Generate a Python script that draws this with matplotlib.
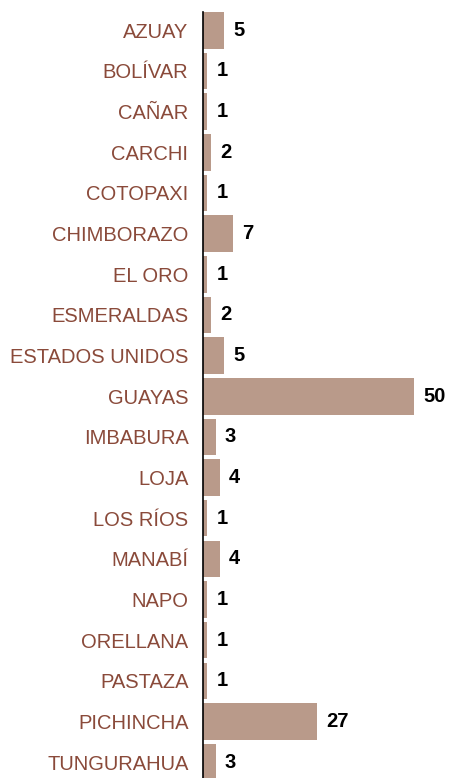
import matplotlib
matplotlib.use('Agg')
import matplotlib.pyplot as plt

provincias = ['AZUAY', 'BOLÍVAR', 'CAÑAR', 'CARCHI', 'COTOPAXI', 'CHIMBORAZO',
              'EL ORO', 'ESMERALDAS', 'ESTADOS UNIDOS', 'GUAYAS', 'IMBABURA',
              'LOJA', 'LOS RÍOS', 'MANABÍ', 'NAPO', 'ORELLANA', 'PASTAZA',
              'PICHINCHA', 'TUNGURAHUA']
valores = [5, 1, 1, 2, 1, 7, 1, 2, 5, 50, 3, 4, 1, 4, 1, 1, 1, 27, 3]

plt.rcParams['font.family'] = ['Liberation Sans', 'DejaVu Sans']

W, H = 449, 778
fig = plt.figure(figsize=(W / 100, H / 100), dpi=100)
ax = fig.add_axes([203 / W, 0, (414 - 203) / W, 1 - 12 / H])

pos = list(range(len(provincias)))
ax.barh(pos, valores, height=0.9, color='#b99a8a')
ax.set_xlim(0, 50)
ax.set_ylim(18.39, -0.45)

for y, v in zip(pos, valores):
    ax.text(v + 2.2, y, str(v), va='center', ha='left', fontsize=14.5,
            fontweight='bold', color='black', clip_on=False)

ax.set_yticks(pos)
ax.set_yticklabels(provincias, fontsize=14.5, color='#8a4a3a')
ax.tick_params(axis='y', length=0, pad=10.5)
ax.set_xticks([])
for s in ['top', 'right', 'bottom']:
    ax.spines[s].set_visible(False)
ax.spines['left'].set_linewidth(1.2)

fig.savefig('out.png', dpi=100)
